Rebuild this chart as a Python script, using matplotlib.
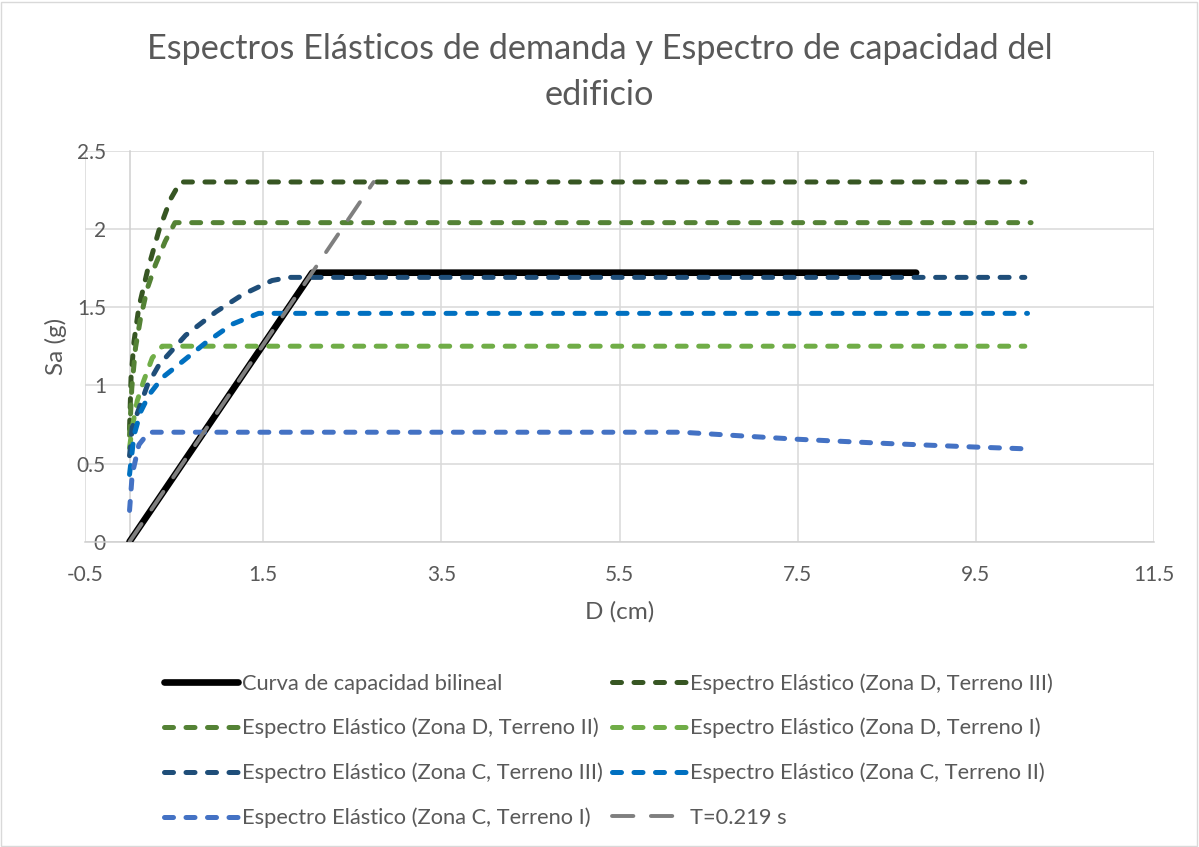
import matplotlib
matplotlib.use('Agg')
import matplotlib.pyplot as plt
from matplotlib.patches import Rectangle

# Curva de capacidad bilineal (D en cm, Sa en g)
cap_x = [0, 2.05, 8.83]
cap_y = [0, 1.72, 1.72]

# Recta del periodo T=0.219 s
t_x = [0, 2.74]
t_y = [0, 2.30]

# Espectros elásticos
d3_x = [0, 0.017, 0.05, 0.105, 0.2, 0.33, 0.46, 0.57, 10.05]
d3_y = [0.72, 1.05, 1.28, 1.50, 1.73, 1.99, 2.19, 2.30, 2.30]

d2_x = [0, 0.025, 0.067, 0.124, 0.2, 0.29, 0.40, 0.51, 10.12]
d2_y = [0.68, 0.98, 1.24, 1.43, 1.62, 1.77, 1.92, 2.04, 2.04]

d1_x = [0, 0.03, 0.086, 0.16, 0.255, 0.367, 10.05]
d1_y = [0.60, 0.73, 0.90, 1.03, 1.175, 1.25, 1.25]

c3_x = [0, 0.03, 0.105, 0.2, 0.33, 0.63, 0.97, 1.27, 1.60, 1.79, 10.05]
c3_y = [0.55, 0.73, 0.85, 1.00, 1.13, 1.32, 1.47, 1.58, 1.67, 1.69, 1.69]

c2_x = [0, 0.05, 0.124, 0.22, 0.37, 0.59, 0.85, 1.15, 1.45, 10.08]
c2_y = [0.43, 0.68, 0.83, 0.94, 1.05, 1.15, 1.27, 1.39, 1.46, 1.46]

c1_x = [0, 0.03, 0.105, 0.217, 6.2, 7.0, 7.5, 8.5, 9.5, 10.05]
c1_y = [0.20, 0.43, 0.62, 0.70, 0.70, 0.672, 0.655, 0.628, 0.605, 0.594]

x_ticks = [-0.5, 1.5, 3.5, 5.5, 7.5, 9.5, 11.5]
y_ticks = [0, 0.5, 1, 1.5, 2, 2.5]

plt.rcParams['font.family'] = ['Lato', 'DejaVu Sans']
txt = '#595959'
grid_c = '#D9D9D9'

fig = plt.figure(figsize=(11.99, 8.47), dpi=100)
ax = fig.add_axes([85 / 1199, 1 - 541.7 / 847, (1154 - 85) / 1199, (541.7 - 150.7) / 847])

# Curva de capacidad
h_cap, = ax.plot(cap_x, cap_y, color='black', lw=4.8, solid_capstyle='round',
                 label='Curva de capacidad bilineal', zorder=3)

dash = dict(lw=3.6, dash_capstyle='round', dashes=(1.8, 2.5), zorder=4)
h_d3, = ax.plot(d3_x, d3_y, color='#375623', label='Espectro Elástico (Zona D, Terreno III)', **dash)
h_d2, = ax.plot(d2_x, d2_y, color='#548235', label='Espectro Elástico (Zona D, Terreno II)', **dash)
h_d1, = ax.plot(d1_x, d1_y, color='#70AD47', label='Espectro Elástico (Zona D, Terreno I)', **dash)
h_c3, = ax.plot(c3_x, c3_y, color='#1F4E79', label='Espectro Elástico (Zona C, Terreno III)', **dash)
h_c2, = ax.plot(c2_x, c2_y, color='#0070C0', label='Espectro Elástico (Zona C, Terreno II)', **dash)
h_c1, = ax.plot(c1_x, c1_y, color='#4472C4', label='Espectro Elástico (Zona C, Terreno I)', **dash)

h_t, = ax.plot(t_x, t_y, color='#7F7F7F', lw=2.8, dash_capstyle='round',
               dashes=(5.5, 4.5), label='T=0.219 s', zorder=5)

ax.set_xlim(-0.5, 11.5)
ax.set_ylim(0, 2.5)
ax.set_xticks(x_ticks)
ax.set_yticks(y_ticks)
ax.set_xticklabels(['-0.5', '1.5', '3.5', '5.5', '7.5', '9.5', '11.5'])
ax.set_yticklabels(['0', '0.5', '1', '1.5', '2', '2.5'])
ax.grid(True, color=grid_c, lw=1.1, zorder=0)
ax.set_axisbelow(True)

for s in ['top', 'right']:
    ax.spines[s].set_visible(False)
ax.spines['left'].set_position(('data', 0))
ax.spines['left'].set_color('#CFCFCF')
ax.spines['bottom'].set_color('#CFCFCF')
ax.spines['left'].set_linewidth(1.1)
ax.spines['bottom'].set_linewidth(1.1)
ax.tick_params(axis='both', length=0, labelsize=15, labelcolor=txt)
ax.tick_params(axis='y', pad=17)
ax.tick_params(axis='x', pad=17)

ax.set_xlabel('D (cm)', fontsize=17.5, color=txt, labelpad=11)
ax.set_ylabel('Sa (g)', fontsize=17.5, color=txt)
ax.yaxis.set_label_coords(-0.017, 0.5)

fig.suptitle('Espectros Elásticos de demanda y Espectro de capacidad del\nedificio',
             fontsize=24.7, color=txt, y=1 - 33 / 847, va='top', linespacing=1.55)

# Leyenda (orden por filas como en Excel)
handles = [h_cap, h_d2, h_c3, h_c1, h_d3, h_d1, h_c2, h_t]
fig.legend(handles=handles, labels=[h.get_label() for h in handles], ncol=2,
           loc='upper left', bbox_to_anchor=(153 / 1199, 1 - 662 / 847),
           frameon=False, fontsize=15.75, handlelength=3.4, handletextpad=0.15,
           labelspacing=1.11, columnspacing=0.45, borderpad=0, labelcolor=txt)

fig.add_artist(Rectangle((0.001, 0.001), 0.997, 0.997, transform=fig.transFigure,
                         fill=False, edgecolor=grid_c, lw=1))

fig.savefig('out.png', dpi=100)
